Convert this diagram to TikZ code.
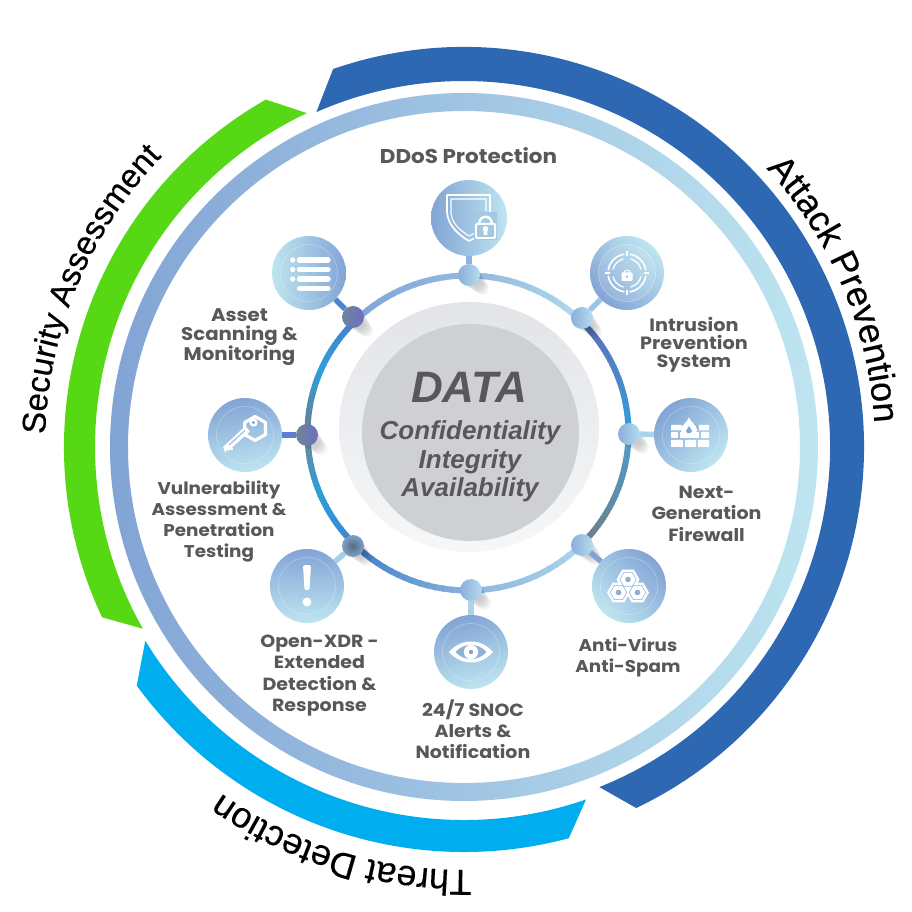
\documentclass[tikz,border=0pt]{standalone}
\usepackage{fontspec}
\usetikzlibrary{decorations.text,calc}
\setmainfont{Liberation Sans}
\newfontfamily\lblfont{Poppins}[BoldFont={Poppins Bold},BoldFeatures={FakeStretch=1.08}]
\newfontfamily\outerf{Liberation Sans}[FakeBold=0.35]
\newcommand{\outerlabel}{\outerf\fontsize{36}{36}\selectfont}
\newcommand{\outerlabelB}{\outerf\fontsize{33}{33}\selectfont}
\newcommand{\hx}[1]{\definecolor{#1}{HTML}{#1}}
\hx{7FA6D8}\hx{93B7DF}\hx{B0DBEC}\hx{5A6DB8}\hx{4E86C8}\hx{2F9EDC}\hx{4E9BC9}\hx{5C8FAE}\hx{6E7F87}\hx{A9D6EB}\hx{8FB5DE}\hx{8AB0DC}\hx{3F7FCB}\hx{3C86CF}\hx{2F9DD8}\hx{6E8797}\hx{6A8190}\hx{4483CF}
\hx{8DB3DE}\hx{9CC6E6}\hx{A9D3EB}\hx{7FA5D5}\hx{AAD5EB}\hx{A5CFE9}\hx{5B80CE}\hx{4D83CE}
\hx{8DAEDB}\hx{B4DCEE}\hx{566E7C}\hx{7F9FCB}\hx{6E8598}\hx{2E9BD8}\hx{6B6FC0}
\definecolor{txt}{HTML}{58585A}
\definecolor{bandblue}{HTML}{2E68B2}
\definecolor{bandgreen}{HTML}{56D914}
\definecolor{bandcyan}{HTML}{00AEEF}
\definecolor{dk}{HTML}{82A4D5}
\definecolor{lt}{HTML}{BEE5F0}
\definecolor{discT}{HTML}{E2E4E8}
\definecolor{discB}{HTML}{F6F7F8}
\definecolor{core}{HTML}{CFD0D2}
\tikzset{
  lbl/.style 2 args={font=\lblfont\bfseries\fontsize{#1}{#2}\selectfont,text=txt,align=center,inner sep=0pt},
  data/.style={text=txt,inner sep=0pt},
  iconb/.style={circle,minimum size=74pt,inner sep=0pt,top color=dk,bottom color=lt},
  dotb/.style={circle,minimum size=22pt,inner sep=0pt},
  spoke/.style={line width=5.5pt},
  ico/.style={white,line width=1.7pt,line join=round,line cap=round},
  soft/.style={white,opacity=.3,line width=.6pt},
  rseg/.style={line width=6pt}
}
% gradient along an arc of the inner ellipse
\newcommand{\gradarc}[4]{%
  \foreach \t in {0,...,15}{%
    \pgfmathsetmacro\aS{#1+(#2-(#1))*\t/16}%
    \pgfmathsetmacro\aE{#1+(#2-(#1))*(\t+1.3)/16}%
    \pgfmathtruncatemacro\p{100*\t/15}%
    \draw[rseg,draw={#4!\p!#3}] ($(4,14)+(\aS:160.5 and 157.5)$) arc[start angle=\aS,end angle=\aE,x radius=160.5,y radius=157.5];
  }}
\begin{document}
\begin{tikzpicture}[x=1pt,y=1pt]
\useasboundingbox (-464,-465) rectangle (448,447);
\fill[white] (-464,-465) rectangle (448,447);

% outer bands
\fill[bandblue] (109.1:400) arc[start angle=109.1,end angle=-64.5,radius=400] -- (-68.3:366) arc[start angle=-68.3,end angle=113.8,radius=366] -- cycle;
\fill[bandgreen] (119.7:400) arc[start angle=119.7,end angle=205.2,radius=400] -- (209.5:369) arc[start angle=209.5,end angle=115.2,radius=369] -- cycle;
\fill[bandcyan] (216.1:405) arc[start angle=216.1,end angle=285,radius=405] -- (289.1:373) arc[start angle=289.1,end angle=211.3,radius=373] -- cycle;
% wide ring
\shade[left color=dk,right color=lt,even odd rule] (0,0) circle (354) (0,0) circle (336);

% band titles
\path[decorate,decoration={text along path,text align=center,text={|\outerlabel|Attack Prevention}}] (53:411) arc[start angle=53,end angle=-7,radius=411];
\path[decorate,decoration={text along path,text align=center,text={|\outerlabelB|Security Assessment}}] (192:419) arc[start angle=192,end angle=122.4,radius=419];
\path[decorate,decoration={text along path,text align=center,text={|\outerlabel|Threat Detection}}] (283:423) arc[start angle=283,end angle=223,radius=423];

% centre
\shade[top color=discT,bottom color=discB] (5,20) ellipse (130 and 125);
\fill[core] (6.5,14.5) circle (108.5);
\node[data,font=\rmfamily\bfseries\itshape\fontsize{44}{44}\selectfont] (tdata) at (5,60) {DATA};
\node[data,font=\rmfamily\bfseries\itshape\fontsize{26}{26}\selectfont] (tc) at (6,14) {Confidentiality};
\node[data,font=\rmfamily\bfseries\itshape\fontsize{26}{26}\selectfont] (ti) at (6,-15) {Integrity};
\node[data,font=\rmfamily\bfseries\itshape\fontsize{26}{26}\selectfont] (ta) at (6,-43) {Availability};

% inner ring
\gradarc{135}{90}{7FA6D8}{93B7DF}
\gradarc{90}{45}{93B7DF}{B0DBEC}
\gradarc{45}{22}{5A6DB8}{4E86C8}
\gradarc{22}{0}{4E86C8}{2F9EDC}
\gradarc{0}{-20}{4E9BC9}{5C8FAE}
\gradarc{-20}{-45}{5C8FAE}{6E7F87}
\gradarc{-45}{-90}{A9D6EB}{8FB5DE}
\gradarc{-90}{-135}{8AB0DC}{3F7FCB}
\gradarc{-135}{-158}{3C86CF}{2F9DD8}
\gradarc{-158}{-180}{2F9DD8}{6E8797}
\gradarc{180}{157}{6A8190}{2F9DD8}
\gradarc{157}{135}{2F9DD8}{4483CF}

% dot shadows
\foreach \x/\y in {5/172,118/129,165/13,118/-98,7/-143,-111/-99,-157/12,-111/130}{
  \foreach \i in {1,...,8}{
    \fill[black,opacity=.032] (\x+1.7*\i,\y-1.7*\i) circle ({10.5-.5*\i});
  }
}

% icon discs
\node[iconb,shading angle=90,minimum size=76pt] (i1) at (5,229) {};
\node[iconb,top color=lt,bottom color=dk,shading angle=-45] (i2) at (163,174) {};
\node[iconb,shading angle=45] (i3) at (227,12) {};
\node[iconb,shading angle=-45] (i4) at (165,-139) {};
\node[iconb,shading angle=15] (i5) at (7,-205) {};
\node[iconb] (i6) at (-157,-139) {};
\node[iconb,shading angle=10] (i7) at (-219,12) {};
\node[iconb,top color=lt,bottom color=dk,shading angle=90] (i8) at (-155,174) {};

% ring dots
\node[dotb,top color=8DAEDB,bottom color=B4DCEE,shading angle=90] (d1) at (5,172) {};
\node[dotb,top color=8DAEDB,bottom color=B4DCEE,shading angle=90] (d2) at (118,129) {};
\node[dotb,top color=8DAEDB,bottom color=B4DCEE,shading angle=90] (d3) at (165,13) {};
\node[dotb,top color=8DAEDB,bottom color=B4DCEE,shading angle=90] (d4) at (118,-98) {};
\node[dotb,top color=8DAEDB,bottom color=B4DCEE,shading angle=90] (d5) at (7,-143) {};
\node[dotb,inner color=566E7C,outer color=7F9FCB] (d6) at (-111,-99) {};
\node[dotb,left color=6E8598,middle color=2E9BD8,right color=6B6FC0] (d7) at (-157,12) {};
\node[dotb,left color=6E8598,middle color=2E9BD8,right color=6B6FC0] (d8) at (-111,130) {};

% spokes
\draw[spoke,draw=8DB3DE] (d1) -- (i1);
\draw[spoke,draw=9CC6E6] (d2) -- (i2);
\draw[spoke,draw=A9D3EB] (d3) -- (i3);
\draw[spoke,draw=7FA5D5] (d4) -- (i4);
\draw[spoke,draw=AAD5EB] (d5) -- (i5);
\draw[spoke,draw=A5CFE9] (d6) -- (i6);
\draw[spoke,draw=5B80CE] (d7) -- (i7);
\draw[spoke,draw=4D83CE] (d8) -- (i8);

% soft inner circles
\foreach \n in {i2,i3,i4,i5,i6,i7,i8}{\draw[soft] (\n.center) circle (28.5);}

% icon 1: shield + lock
\begin{scope}[shift={(i1.center)}]
\draw[ico] (-22,23) -- (21,23) -- (21,6) (-22,23) -- (-22,6) .. controls (-21,-8) and (-10,-17) .. (0,-23) -- (6,-20);
\draw[ico,line width=1.1pt] (-18,19) -- (17,19) -- (17,7) (-18,19) -- (-18,5) .. controls (-17,-6) and (-8,-13) .. (0,-18) -- (5,-15.5);
\fill[dk!45!lt] (5,-22) rectangle (28,6);
\fill[white] (9,-5) arc[start angle=180,end angle=0,radius=7.5] -- cycle;
\fill[dk!45!lt] (11.5,-5) arc[start angle=180,end angle=0,radius=5] -- cycle;
\fill[white,rounded corners=2pt] (6,-21) rectangle (27,-5);
\fill[dk!45!lt,rounded corners=1pt] (8,-19) rectangle (25,-7);
\fill[white] (16.5,-11) circle (2.8);
\fill[white] (15,-11) -- (18,-11) -- (18.5,-17) -- (14.5,-17) -- cycle;
\end{scope}

% icon 2: target + lock
\begin{scope}[shift={(i2.center)}]
\fill[white,opacity=.12] (0,0) circle (29);
\foreach \a in {0,90,180,270}{
  \draw[ico,line width=1.6pt,line cap=butt] (\a+8:19) arc[start angle=\a+8,end angle=\a+82,radius=19];
  \draw[ico,line width=1.3pt,line cap=butt] (\a+14:14.5) arc[start angle=\a+14,end angle=\a+76,radius=14.5];
  \draw[ico,line width=1.2pt,line cap=butt] (\a:17) -- (\a:22);
}
\draw[ico,line width=1pt] (-3,0) arc[start angle=180,end angle=0,radius=3];
\fill[white,rounded corners=.8pt] (-5.5,-8) rectangle (5.5,0.5);
\fill[dk] (0,-3.8) circle (1.2);
\end{scope}

% icon 3: firewall + flame
\begin{scope}[shift={(i3.center)}]
\fill[white,rounded corners=.6pt] (-20,10) rectangle (-9,4.5);
\fill[white,rounded corners=.6pt] (8,10) rectangle (18,4.5);
\fill[white,rounded corners=.6pt] (-20,3) rectangle (-13,-3);
\fill[white,rounded corners=.6pt] (-11,3) rectangle (8,-3);
\fill[white,rounded corners=.6pt] (10,3) rectangle (18,-3);
\fill[white,rounded corners=.6pt] (-20,-5) rectangle (-8,-12);
\fill[white,rounded corners=.6pt] (-6,-5) rectangle (5,-12);
\fill[white,rounded corners=.6pt] (7,-5) rectangle (18,-12);
\fill[dk!90!lt] (-9,6) .. controls (-9,-1) and (6,-1) .. (6,6) -- (6,10) -- (-9,10) -- cycle;
\fill[white] (-2,18) .. controls (-1,13) and (6,10) .. (6,5) .. controls (6,-1) and (-10,-1) .. (-10,5) .. controls (-10,10) and (-3,13) .. (-2,18) -- cycle;
\fill[dk] (-2,9) .. controls (-2,7) and (1,6) .. (1,4) .. controls (1,1) and (-5,1) .. (-5,4) .. controls (-5,6) and (-2,7) .. (-2,9) -- cycle;
\end{scope}

% icon 4: hexagons
\begin{scope}[shift={(i4.center)}]
\foreach \x/\y in {-1/6.5,-10.5/-6.5,8.5/-6.5}{
  \fill[white] (\x+11.5,\y) -- ++(120:11.5) -- ++(180:11.5) -- ++(240:11.5) -- ++(300:11.5) -- ++(0:11.5) -- cycle;
}
\foreach \x/\y in {-1/6.5,-10.5/-6.5,8.5/-6.5}{
  \draw[dk!85!lt,line width=.5pt] (\x+8.3,\y) -- ++(120:8.3) -- ++(180:8.3) -- ++(240:8.3) -- ++(300:8.3) -- ++(0:8.3) -- cycle;
  \fill[dk!85!lt] (\x,\y) circle (2.8);
}
\end{scope}

% icon 5: eye
\begin{scope}[shift={(i5.center)}]
\fill[white] (-22,0) .. controls (-10,14) and (10,14) .. (22,0) .. controls (10,-14) and (-10,-14) .. (-22,0) -- cycle;
\fill[dk!80!lt] (-15.5,0) .. controls (-7,9.5) and (7,9.5) .. (15.5,0) .. controls (7,-9.5) and (-7,-9.5) .. (-15.5,0) -- cycle;
\fill[white] (0,0) circle (7.2);
\fill[dk] (0,0) circle (2.2);
\end{scope}

% icon 6: exclamation
\begin{scope}[shift={(i6.center)}]
\fill[white,rounded corners=1.5pt] (-4,21) -- (4,21) -- (2.5,-4) -- (-2.5,-4) -- cycle;
\fill[white] (0,-16) circle (4.5);
\end{scope}

% icon 7: key
\begin{scope}[shift={(i7.center)}]
\draw[ico,line width=3.2pt] (20.5,12.5) -- ++(150:12) -- ++(210:12) -- ++(270:12) -- ++(330:12) -- ++(30:12) -- cycle;
\fill[white] (8.5,12.5) circle (4.2);
\fill[dk] (8.5,12.5) circle (1.7);
\fill[white] (0.5,9) -- (5,3.5) -- (-13,-12.5) -- (-11.5,-14) -- (-13.5,-15.5) -- (-15,-14) -- (-16.5,-16) -- (-18,-14.5) -- (-19.5,-18) -- (-22,-12) -- cycle;
\draw[dk!70!lt,line width=1pt] (0,4.5) -- (-16,-10);
\end{scope}

% icon 8: list
\begin{scope}[shift={(i8.center)}]
\foreach \y in {13,3.5,-6,-15.3}{
  \draw[white,line width=5.4pt,line cap=round] (-9.5,\y) -- (19,\y);
}
\foreach \y in {13,3.5,-6}{
  \fill[white] (-16.3,\y) circle (2.7);
}
\end{scope}

% labels
\node[lbl={19.9}{24}] (l1) at (4.5,291) {DDoS Protection};
\node[lbl={17.8}{18}] (l2) at (230,102) {Intrusion\\Prevention\\System};
\node[lbl={17.6}{21.5}] (l3) at (242.5,-66.5) {Next-\\Generation\\Firewall};
\node[lbl={17}{21}] (l4) at (164,-210.5) {Anti-Virus\\Anti-Spam};
\node[lbl={17.6}{21}] (l5) at (9,-282.5) {24/7 SNOC\\Alerts \&\\Notification};
\node[lbl={17.6}{21.3}] (l6) at (-144.5,-228.5) {Open-XDR -\\Extended\\Detection \&\\Response};
\node[lbl={17}{21}] (l7) at (-245,-74.5) {Vulnerability\\Assessment \&\\Penetration\\Testing};
\node[lbl={18.3}{19}] (l8) at (-224.5,110) {Asset\\Scanning \&\\Monitoring};
\end{tikzpicture}
\end{document}
